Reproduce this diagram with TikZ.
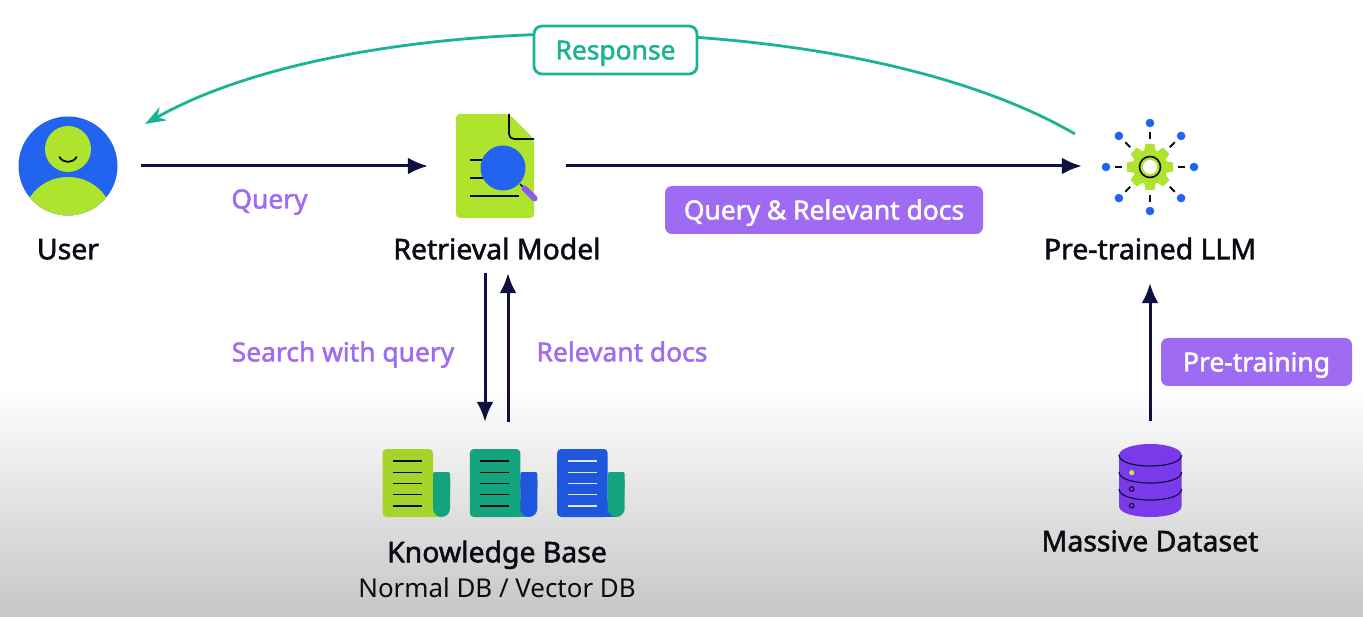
\documentclass[tikz,border=0pt]{standalone}
\usepackage{fontspec}
\setmainfont{Noto Sans}
\usetikzlibrary{arrows.meta,calc}
\definecolor{navy}{HTML}{0F0F40}
\definecolor{lime}{HTML}{AEE32E}
\definecolor{limedk}{HTML}{A5D42B}
\definecolor{royal}{HTML}{2264F0}
\definecolor{royaldk}{HTML}{1F56DE}
\definecolor{teal}{HTML}{1AB394}
\definecolor{tealdk}{HTML}{14A37F}
\definecolor{lilac}{HTML}{9F6BF2}
\definecolor{dbpurple}{HTML}{7B3AEA}
\definecolor{ink}{HTML}{0B0B14}
\definecolor{bgend}{HTML}{C6C6C6}
\newcommand{\medtext}{\addfontfeature{FakeBold=1.8}}
\newcommand{\scrollicon}[4]{%
  \begin{scope}[xshift=#1]
    \fill[#2,rounded corners=4] (382.5,449) -- (433,449) -- (433,517) -- (382.5,517) -- cycle;
    \fill[#2] (425,500) rectangle (442,517);
    \fill[#3,rounded corners=2] (433,472) -- (450,472) -- (450,490) -- (433,490) -- cycle;
    \fill[#3] (433,480) -- (450,480) -- (450,508.5) .. controls (450,513.2) and (446.2,517) .. (441.5,517) .. controls (436.8,517) and (433,513.2) .. (433,508.5) -- cycle;
    \foreach \ly in {461,472.5,483.7,494.7,506}{\draw[#4,line width=1.3] (393,\ly) -- (422,\ly);}
  \end{scope}}
\tikzset{
  x=1pt,y=-1pt,
  lbl/.style={font=\fontsize{28.4}{32}\selectfont\medtext,text=ink,inner sep=0,text height=20.5,text depth=0},
  sublbl/.style={font=\fontsize{25.9}{30}\selectfont,text=ink,inner sep=0,text height=18.5,text depth=0},
  tag/.style={font=\fontsize{26.4}{30}\selectfont\medtext,text=lilac,inner sep=0,text height=19,text depth=0},
  pill/.style={fill=lilac,rounded corners=7,font=\fontsize{26.4}{30}\selectfont\medtext,text=white,inner sep=0,text height=19,text depth=0,minimum height=48},
  respbox/.style={draw=teal,line width=2.8,fill=white,rounded corners=8,font=\fontsize{26.4}{30}\selectfont\medtext,text=teal,inner sep=0,text height=19,text depth=0,minimum height=48,minimum width=163},
  iconbox/.style={inner sep=0,draw=none},
  flow/.style={draw=navy,line width=3,-{Latex[length=20,width=17]}},
  reply/.style={draw=teal,line width=2.8,-{Stealth[length=21,width=15]}},
}
\begin{document}
\begin{tikzpicture}
\useasboundingbox (0,0) rectangle (1363,617);
\fill[white] (0,0) rectangle (1363,617);
\shade[top color=white,bottom color=bgend] (0,385) rectangle (1363,617);

% layout boxes
\node[iconbox,minimum width=146,minimum height=100] (user) at (68,166) {};
\node[iconbox,minimum width=138,minimum height=104] (retr) at (497,166) {};
\node[iconbox,minimum width=136,minimum height=100] (llm) at (1150,166) {};
\node[lbl,minimum height=48] (userlbl) at (68,249) {User};
\node[lbl,minimum height=48] (retrlbl) at (497,249) {Retrieval Model};
\node[lbl,minimum height=68] (llmlbl) at (1150,249) {Pre-trained LLM};
\node[iconbox,minimum width=243,minimum height=124] (kb) at (503.5,484) {};
\node[iconbox,minimum width=66,minimum height=118] (db) at (1150,480) {};
\node[lbl] (kblbl) at (497,552) {Knowledge Base};
\node[sublbl] (kbsub) at (497,588) {Normal DB / Vector DB};
\node[lbl] (dblbl) at (1150,541) {Massive Dataset};
\coordinate (replyfrom) at (1075,134);
\coordinate (replyto) at (145,124);

% connectors
\draw[reply] (replyfrom) .. controls (850,3) and (360,3) .. (replyto);
\draw[flow] (user.east) -- (retr.west);
\draw[flow] (retr.east) -- (llm.west);
\draw[flow] ([xshift=-12]retrlbl.south) -- ([xshift=-18.5]kb.north);
\draw[flow] ([xshift=4.5]kb.north) -- ([xshift=11]retrlbl.south);
\draw[flow] (db.north) -- (llmlbl.south);

% tags
\node[respbox] (resp) at (615.5,50) {Response};
\node[tag] (tquery) at (269.5,199) {Query};
\node[tag] (tsearch) at (343,352) {Search with query};
\node[tag] (trel) at (622,352) {Relevant docs};
\node[pill,minimum width=318] (tqr) at (824,210) {Query \& Relevant docs};
\node[pill,minimum width=191] (tpre) at (1256.5,362) {Pre-training};

% user icon
\begin{scope}
  \fill[royal] (68,166) circle[radius=49.5];
  \fill[lime] (68,149) circle[radius=23];
  \clip (68,166) circle[radius=49.5];
  \fill[lime] (68,218) ellipse[x radius=44,y radius=41];
\end{scope}
\draw[ink,line width=1.8,line cap=round] (59.5,157) .. controls (63,163.5) and (73,163.5) .. (76.5,157);

% retrieval icon
\fill[lime,rounded corners=4] (456,114) -- (509,114) -- (534,139) -- (534,218) -- (456,218) -- cycle;
\draw[ink,line width=1.8,rounded corners=5] (509,114) -- (509,139) -- (534,139);
\foreach \ly/\lx in {160/485,178/485,196/519}{\draw[ink,line width=1.7] (470,\ly) -- (\lx,\ly);}
\draw[ink,line width=1.5] (520,184) -- (526,190);
\draw[dbpurple!85!white,line width=6,line cap=round] (524.5,188.5) -- (534.5,198.5);
\fill[royal] (503,168) circle[radius=22.5];

% LLM icon
\begin{scope}[shift={(1150,167)}]
  \foreach \a in {0,45,...,315}{
    \fill[royal] (\a:44) circle[radius=4.3];
    \draw[ink,line width=2] (\a:28) -- (\a:35);
    \fill[lime,rotate=\a] (15,-6) -- (23,-4.5) -- (23,4.5) -- (15,6) -- cycle;
  }
  \fill[lime] (0,0) circle[radius=17.5];
  \fill[white] (0,0) circle[radius=7];
  \draw[ink,line width=1.6] (0,0) circle[radius=10.5];
\end{scope}

% knowledge base icons
\scrollicon{0}{limedk}{tealdk}{ink}
\scrollicon{87.3}{tealdk}{royaldk}{ink}
\scrollicon{174.7}{royaldk}{tealdk}{white!85!royal}

% database icon
\fill[dbpurple] (1119,455) -- (1119,506) .. controls (1119,520.7) and (1181.6,520.7) .. (1181.6,506) -- (1181.6,455) -- cycle;
\fill[dbpurple] (1150.3,455) ellipse[x radius=31.3,y radius=11];
\draw[navy,line width=1.2] (1119,455) .. controls (1119,469.7) and (1181.6,469.7) .. (1181.6,455);
\draw[navy,line width=1.2] (1119,472) .. controls (1119,486.7) and (1181.6,486.7) .. (1181.6,472);
\draw[navy,line width=1.2] (1119,489) .. controls (1119,503.7) and (1181.6,503.7) .. (1181.6,489);
\fill[lime!80!white] (1131.7,472.7) circle[radius=2.6];
\draw[navy,line width=1.2] (1131.7,489) circle[radius=2.3];
\draw[navy,line width=1.2] (1131.7,505.7) circle[radius=2.3];
\end{tikzpicture}
\end{document}
